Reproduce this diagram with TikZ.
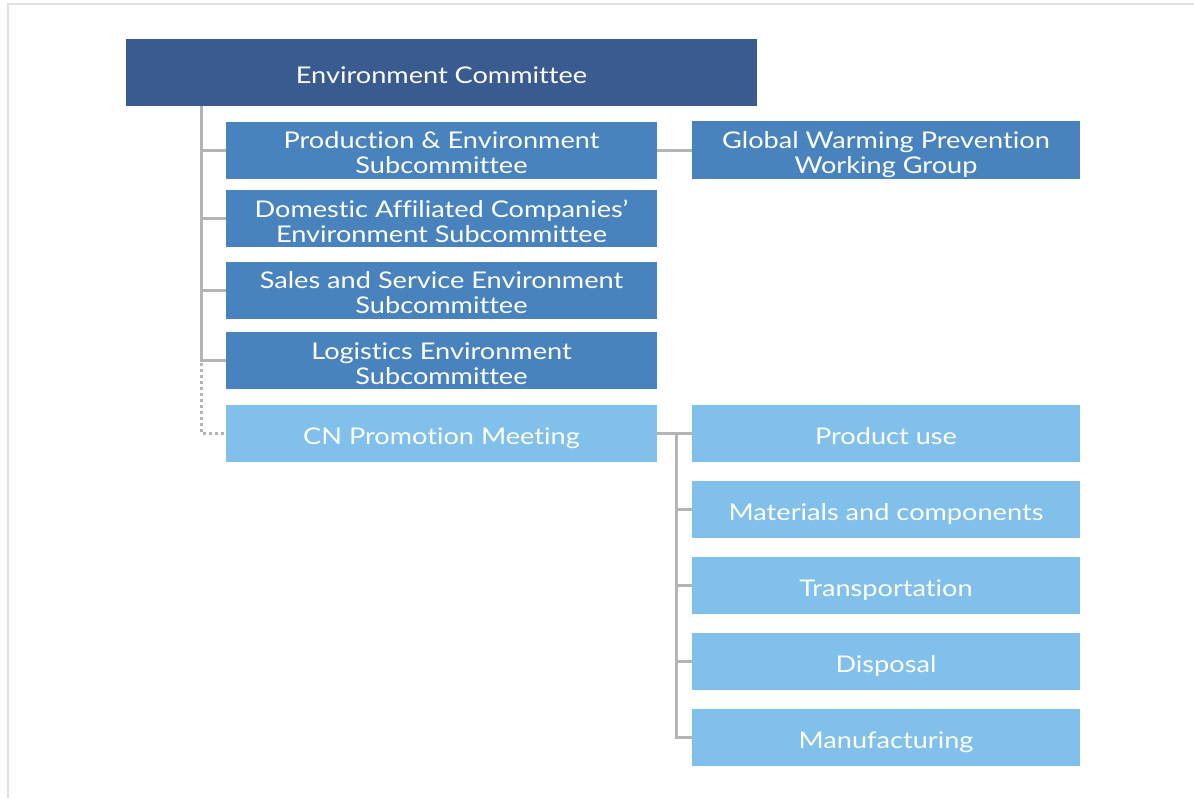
\documentclass[tikz,border=0pt]{standalone}
\usepackage{fontspec}
\setmainfont{Lato}[Ligatures=NoCommon, FakeStretch=1.18]
\definecolor{hdr}{RGB}{58,91,143}
\definecolor{mid}{RGB}{72,131,190}
\definecolor{lite}{RGB}{128,192,234}
\definecolor{conn}{RGB}{180,180,180}
\definecolor{frame}{RGB}{224,224,224}
\tikzset{
  box/.style={rectangle, inner sep=0pt, text=white, align=center,
    text height=22pt, text depth=-2pt, font=\fontsize{23}{25}\selectfont},
  twoline/.style={text height=47pt},
  hdrbox/.style={box, fill=hdr, minimum width=631pt, minimum height=67pt},
  subbox/.style={box, twoline, fill=mid, minimum width=431pt, minimum height=57pt},
  wgbox/.style={box, twoline, fill=mid, minimum width=388pt, minimum height=58pt},
  cnbox/.style={box, fill=lite, minimum width=431pt, minimum height=57pt},
  itembox/.style={box, fill=lite, minimum width=388pt, minimum height=57pt},
  link/.style={draw=conn, line width=3pt},
  dotlink/.style={draw=conn, line width=3pt, dash pattern=on 3pt off 3pt},
}
\begin{document}
\begin{tikzpicture}[x=1pt,y=-1pt]
\useasboundingbox (0,0) rectangle (1194,798);
\draw[frame, line width=2pt] (8,798) -- (8,4) -- (1194,4);
\node[hdrbox] (ec) at (441.5,72.5) {Environment Committee};
\node[subbox] (s1) at (441.5,150) {Production \& Environment\\Subcommittee};
\node[subbox] (s2) at (441.5,218.5) {Domestic Affiliated Companies’\\Environment Subcommittee};
\node[subbox] (s3) at (441.5,290) {Sales and Service Environment\\Subcommittee};
\node[subbox] (s4) at (441.5,360.5) {Logistics Environment\\Subcommittee};
\node[cnbox] (cn) at (441.5,433) {CN Promotion Meeting};
\node[wgbox] (wg) at (886,150) {Global Warming Prevention\\Working Group};
\node[itembox] (i1) at (886,433) {Product use};
\node[itembox] (i2) at (886,509) {Materials and components};
\node[itembox] (i3) at (886,585) {Transportation};
\node[itembox] (i4) at (886,661) {Disposal};
\node[itembox] (i5) at (886,737.5) {Manufacturing};
\coordinate (tx) at (201,0);
\coordinate (rx) at (676,0);
\draw[link] (ec.south -| tx) |- (s1.west);
\draw[link] (s1.west -| tx) |- (s2.west);
\draw[link] (s2.west -| tx) |- (s3.west);
\draw[link] (s3.west -| tx) |- (s4.west);
\draw[dotlink] ([yshift=4pt]s4.west -| tx) |- (cn.west);
\draw[link] (s1.east) -- (wg.west);
\draw[link] (cn.east) -- (i1.west);
\draw[link] (i1.west -| rx) |- (i2.west);
\draw[link] (i2.west -| rx) |- (i3.west);
\draw[link] (i3.west -| rx) |- (i4.west);
\draw[link] (i4.west -| rx) |- (i5.west);
\end{tikzpicture}
\end{document}
